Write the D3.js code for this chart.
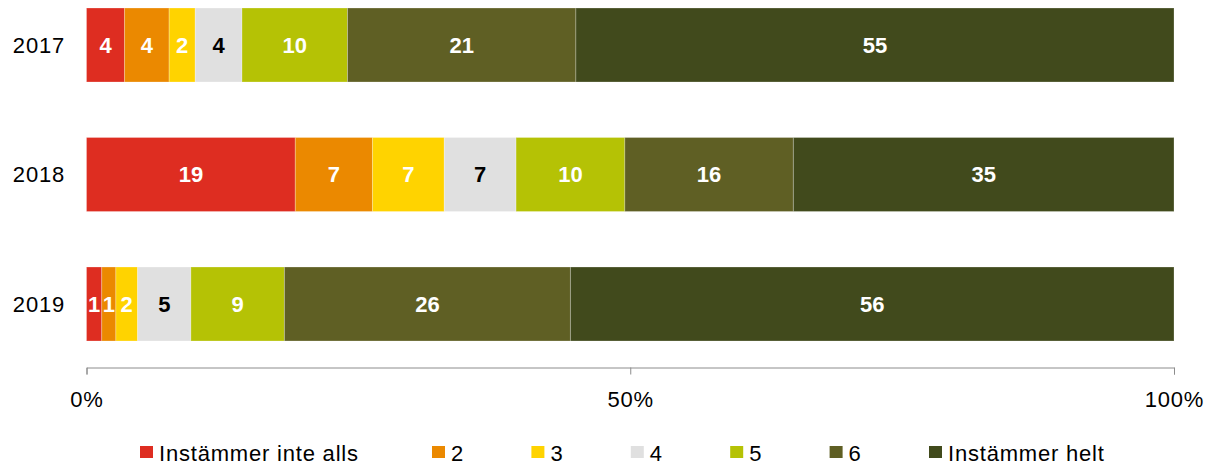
<!DOCTYPE html>
<html>
<head>
<meta charset="utf-8">
<script src="https://cdn.jsdelivr.net/npm/d3@7"></script>
<style>
  body { margin: 0; background: #fff; }
  text { font-family: "Liberation Sans", Arial, sans-serif; }
</style>
</head>
<body>
<script>
var width = 1207;
var height = 466;

// categories and series
var years = ['2017', '2018', '2019'];
var categories = ['Instämmer inte alls', '2', '3', '4', '5', '6', 'Instämmer helt'];
var colors = ['#de2d21', '#eb8900', '#ffd300', '#e0e0e0', '#b5c205', '#5f5f24', '#414a1c'];

// shares (percent)
var share2017 = [3.5, 4.1, 2.4, 4.3, 9.7, 21.0, 55.0];
var share2018 = [19.2, 7.1, 6.6, 6.6, 10.0, 15.5, 35.0];
var share2019 = [1.4, 1.3, 2.0, 4.9, 8.6, 26.3, 55.5];

// printed labels
var labels2017 = [4, 4, 2, 4, 10, 21, 55];
var labels2018 = [19, 7, 7, 7, 10, 16, 35];
var labels2019 = [1, 1, 2, 5, 9, 26, 56];

var tickValues = [0, 0.5, 1];

var shares = [share2017, share2018, share2019];
var labels = [labels2017, labels2018, labels2019];

var rows = years.map(function(y, i) {
  var total = d3.sum(shares[i]);
  var row = { year: y };
  categories.forEach(function(c, j) { row[j] = shares[i][j] / total; });
  return row;
});

var keys = categories.map(function(c, j) { return j; });
var series = d3.stack().keys(keys)(rows);

var svg = d3.select('body').append('svg')
  .attr('width', width)
  .attr('height', height);

var x = d3.scaleLinear().domain([0, 1]).range([86.5, 1174]);
var y = d3.scaleBand().domain(years).range([8, 341]).paddingInner(0.4286).paddingOuter(0);

var groups = svg.append('g').selectAll('g')
  .data(series)
  .enter().append('g')
  .attr('fill', function(d) { return colors[d.key]; });

groups.selectAll('rect')
  .data(function(d) { return d; })
  .enter().append('rect')
  .attr('x', function(d) { return x(d[0]); })
  .attr('y', function(d) { return y(d.data.year); })
  .attr('width', function(d) { return x(d[1]) - x(d[0]); })
  .attr('height', y.bandwidth())
  .attr('stroke', '#fff')
  .attr('stroke-opacity', 0.25)
  .attr('stroke-width', 1);

// value labels
groups.selectAll('text')
  .data(function(s) {
    return s.map(function(d, i) { return { d: d, key: s.key, i: i }; });
  })
  .enter().append('text')
  .attr('x', function(o) { return (x(o.d[0]) + x(o.d[1])) / 2; })
  .attr('y', function(o) { return y(o.d.data.year) + y.bandwidth() / 2; })
  .attr('dy', '0.36em')
  .attr('text-anchor', 'middle')
  .style('font-size', '22px')
  .style('font-weight', 'bold')
  .attr('fill', function(o) { return o.key === 3 ? '#000' : '#fff'; })
  .text(function(o) { return labels[o.i][o.key]; });

// year labels
svg.append('g').selectAll('text')
  .data(years)
  .enter().append('text')
  .attr('x', 65)
  .attr('y', function(d) { return y(d) + y.bandwidth() / 2; })
  .attr('dy', '0.36em')
  .attr('text-anchor', 'end')
  .style('font-size', '22px')
  .style('letter-spacing', '0.8px')
  .attr('fill', '#000')
  .text(function(d) { return d; });

// x axis
var axis = svg.append('g')
  .attr('transform', 'translate(0,367.5)')
  .call(d3.axisBottom(x)
    .tickValues(tickValues)
    .tickFormat(d3.format('.0%'))
    .tickSizeOuter(0)
    .tickSize(7)
    .tickPadding(17));

axis.select('.domain').attr('stroke', '#8c8c8c');
axis.selectAll('.tick line').attr('stroke', '#8c8c8c');
axis.selectAll('.tick text')
  .attr('fill', '#000')
  .style('font-size', '22px')
  .style('letter-spacing', '0.8px')
  .style('font-family', '"Liberation Sans", Arial, sans-serif');

// legend
var legend = svg.append('g').selectAll('g')
  .data(categories)
  .enter().append('g')
  .attr('transform', function(d, i) {
    var lx = i === 0 ? 140 : 432 + (i - 1) * 99.4;
    return 'translate(' + lx + ',446)';
  });

legend.append('rect')
  .attr('width', 13)
  .attr('height', 12)
  .attr('fill', function(d, i) { return colors[i]; });

legend.append('text')
  .attr('x', 19)
  .attr('y', 15)
  .style('font-size', '22px')
  .style('letter-spacing', '0.8px')
  .attr('fill', '#000')
  .text(function(d) { return d; });
</script>
</body>
</html>
